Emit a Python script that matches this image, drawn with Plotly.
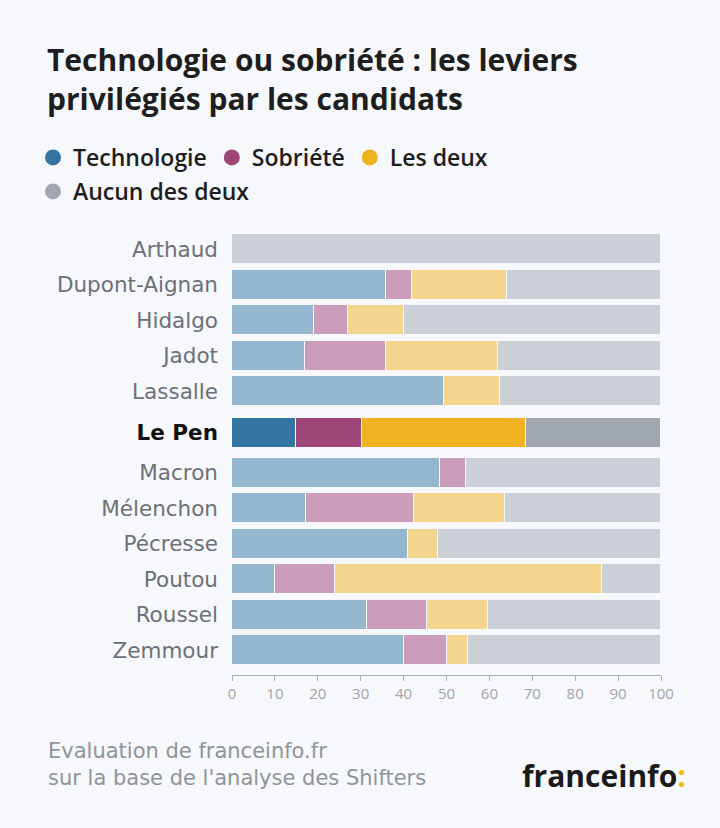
import plotly.graph_objects as go

candidates = ["Arthaud", "Dupont-Aignan", "Hidalgo", "Jadot", "Lassalle", "Le Pen",
              "Macron", "Mélenchon", "Pécresse", "Poutou", "Roussel", "Zemmour"]
technologie = [0, 36, 19, 17, 49.5, 15, 48.5, 17.2, 41, 10, 31.4, 40]
sobriete    = [0, 6, 8, 19, 0, 15.3, 6.1, 25.2, 0, 14, 14, 10]
les_deux    = [0, 22, 13, 26, 12.9, 38.3, 0, 21.3, 7, 62.2, 14.3, 5.1]
aucun       = [100, 36, 60, 38, 37.6, 31.4, 45.4, 36.3, 52, 13.8, 40.3, 44.9]
highlight = "Le Pen"
x_ticks = [0, 10, 20, 30, 40, 50, 60, 70, 80, 90, 100]

series = [
    ("Technologie", technologie, "#3575a1", "#94b6cf"),
    ("Sobriété", sobriete, "#9c467a", "#cb9dbb"),
    ("Les deux", les_deux, "#efb322", "#f3d58d"),
    ("Aucun des deux", aucun, "#a0a7b1", "#cbcfd6"),
]

BG = "#f6f8fb"
W, H = 720, 828
L, R, T, B = 232, 59, 228, 153
pw, ph = W - L - R, H - T - B

# y positions: highlighted row gets a small extra gap around it
hi = candidates.index(highlight)
ypos = []
for i in range(len(candidates)):
    if i < hi:
        ypos.append(i)
    elif i == hi:
        ypos.append(i + 0.17)
    else:
        ypos.append(i + 0.3)

unit = 35.5  # px per row
y_top = -21 / unit
y_bot = y_top + ph / unit

fig = go.Figure()
for name, vals, full, light in series:
    colors = [full if c == highlight else light for c in candidates]
    fig.add_trace(go.Bar(
        x=[v if v else None for v in vals], y=ypos, orientation="h", width=0.845,
        marker=dict(color=colors, line=dict(color=BG, width=1.2)),
        name=name, showlegend=False, hoverinfo="x+name",
    ))

for k, (name, vals, full, light) in enumerate(series):
    fig.add_trace(go.Scatter(
        x=[None], y=[None], mode="markers", name=name,
        marker=dict(size=16, color=full, symbol="circle"),
        legend="legend" if k < 3 else "legend2", showlegend=True,
    ))

ticktext = [f"<b><span style='color:#111111'>{c}</span></b>" if c == highlight else c
            for c in candidates]

def px_x(px):
    return (px - L) / pw

def px_y(py):
    return (H - B - py) / ph

FONT = "Open Sans"
FONT2 = "DejaVu Sans"
legend_font = dict(family=FONT, size=23, color="#1e1e1e", weight=600)

fig.update_layout(
    width=W, height=H, margin=dict(l=L, r=R, t=T, b=B),
    paper_bgcolor=BG, plot_bgcolor=BG,
    barmode="stack", bargap=0,
    font=dict(family=FONT),
    title=dict(text="Technologie ou sobriété : les leviers<br>privilégiés par les candidats",
               x=47 / W, xanchor="left", xref="container",
               y=1 - 71 / H, yanchor="top", yref="container",
               font=dict(family=FONT, size=30, color="#1e1e1e", weight="bold")),
    legend=dict(orientation="h", traceorder="normal", x=px_x(33), xanchor="left",
                y=px_y(136), yanchor="top",
                font=legend_font, bgcolor="rgba(0,0,0,0)", itemclick=False),
    legend2=dict(orientation="h", traceorder="normal", x=px_x(33), xanchor="left",
                 y=px_y(170), yanchor="top",
                 font=legend_font, bgcolor="rgba(0,0,0,0)", itemclick=False),
    xaxis=dict(range=[0, 100], tickvals=x_ticks, showgrid=False, zeroline=False,
               showline=True, linecolor="#a9adb4", linewidth=1,
               ticks="outside", ticklen=5, tickcolor="#a9adb4",
               tickfont=dict(family=FONT, size=15, color="#a0a4ab"), fixedrange=True),
    yaxis=dict(range=[y_bot, y_top], tickvals=ypos, ticktext=ticktext,
               showgrid=False, zeroline=False, showline=False, ticks="",
               ticklabelstandoff=13,
               tickfont=dict(family=FONT2, size=21.5, color="#6d7078"), fixedrange=True),
    annotations=[
        dict(text="Evaluation de franceinfo.fr<br>sur la base de l'analyse des Shifters",
             xref="paper", yref="paper", x=px_x(46), y=px_y(737), xanchor="left", yanchor="top",
             showarrow=False, align="left",
             font=dict(family=FONT2, size=21, color="#8f949b")),
        dict(text="franceinfo<span style='color:#f5b914'>:</span>",
             xref="paper", yref="paper", x=px_x(688), y=px_y(775), xanchor="right", yanchor="middle",
             showarrow=False,
             font=dict(family=FONT, size=30, color="#1a1a1a", weight="bold")),
    ],
)

fig.write_html("out.html")
